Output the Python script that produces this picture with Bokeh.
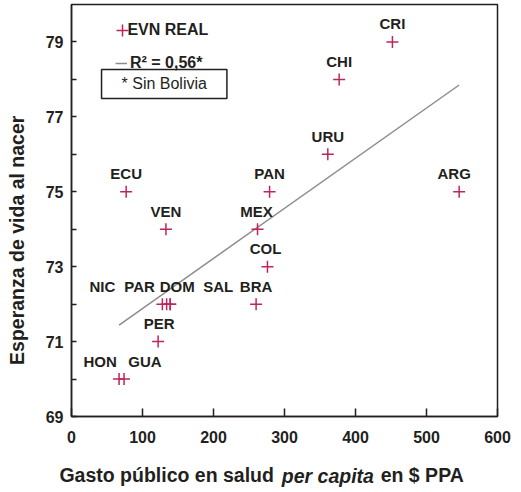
import math
from bokeh.plotting import figure
from bokeh.models import (ColumnDataSource, FixedTicker, Label, Legend, LegendItem,
                          LinearAxis, Range1d)
from bokeh.core.properties import value
from bokeh.embed import file_html
from bokeh.resources import INLINE

# ---- data ----
countries = ["CRI", "CHI", "URU", "ARG", "PAN", "ECU", "VEN", "MEX", "COL",
             "BRA", "NIC", "PAR", "DOM", "SAL", "PER", "HON", "GUA"]
gasto = [452, 377, 361, 546, 279, 77, 133, 262, 276,
         260, 128, 134, 139, 139, 122, 67, 74]
evn = [79, 78, 76, 75, 75, 75, 74, 74, 73,
       72, 72, 72, 72, 72, 71, 70, 70]
fit_slope = 0.01338
fit_intercept = 70.545
x_ticks = [0, 100, 200, 300, 400, 500, 600]
y_major = [69, 71, 73, 75, 77, 79]
y_minor = [70, 72, 74, 76, 78]

# ---- styling ----
label_dx = [0, 0, 0, -5, 0, 0, 0, -1, -2, 0, -60, -27, 7, 48, 1, -19, 21]
FONT = "Liberation Sans"
TXT = "#231f20"
CRIMSON = "#c0245c"
GRAY = "#8c8c8c"
TITLE_SIZE = "19.5px"
NBSP = "\u00a0"

src = ColumnDataSource(dict(gasto=gasto, evn=evn, country=countries, dx=label_dx))

p = figure(width=521, height=491, x_range=Range1d(0, 600), y_range=Range1d(69, 80),
           output_backend="svg", toolbar_location=None,
           min_border_left=71, min_border_right=24, min_border_top=4, min_border_bottom=75)
p.xgrid.visible = False
p.ygrid.visible = False
p.outline_line_color = TXT
p.outline_line_width = 1.5
p.background_fill_color = "white"
p.border_fill_color = "white"

for ax in (p.xaxis[0], p.yaxis[0]):
    ax.axis_line_color = TXT
    ax.axis_line_width = 1.5
    ax.major_tick_line_color = TXT
    ax.major_tick_line_width = 1.5
    ax.minor_tick_line_color = TXT
    ax.minor_tick_line_width = 1.5
    ax.major_tick_out = 0
    ax.minor_tick_out = 0
    ax.major_label_text_font = FONT
    ax.major_label_text_font_style = "bold"
    ax.major_label_text_font_size = "16px"
    ax.major_label_text_color = TXT

p.xaxis[0].ticker = FixedTicker(ticks=x_ticks)
p.xaxis[0].major_tick_in = 8
p.xaxis[0].minor_tick_in = 0
p.xaxis[0].major_label_standoff = 14

p.yaxis[0].ticker = FixedTicker(ticks=y_major, minor_ticks=y_minor)
p.yaxis[0].major_tick_in = 5
p.yaxis[0].minor_tick_in = 5
p.yaxis[0].major_label_standoff = 8
# y-axis title (trailing no-break spaces push the text down along the axis)
p.yaxis[0].axis_label = "Esperanza de vida al nacer" + NBSP * 11
p.yaxis[0].axis_label_standoff = 15
p.yaxis[0].axis_label_text_font = FONT
p.yaxis[0].axis_label_text_font_size = TITLE_SIZE
p.yaxis[0].axis_label_text_font_style = "bold"
p.yaxis[0].axis_label_text_color = TXT

# x-axis title, built as a second (invisible) axis so that "per capita" can be italic
part1_pos, part3_pos = 134, 494
title_axis = LinearAxis(ticker=FixedTicker(ticks=[part1_pos, part3_pos]),
                        major_label_overrides={part1_pos: "Gasto público en salud",
                                               part3_pos: "en $ PPA"},
                        axis_line_color=None, major_tick_line_color=None,
                        minor_tick_line_color=None, major_tick_in=0, major_tick_out=0,
                        minor_tick_in=0, minor_tick_out=0,
                        major_label_text_font=FONT, major_label_text_font_size=TITLE_SIZE,
                        major_label_text_font_style="bold", major_label_text_color=TXT,
                        major_label_standoff=18,
                        axis_label=NBSP * 16 + "per capita",
                        axis_label_text_font=FONT, axis_label_text_font_size=TITLE_SIZE,
                        axis_label_text_font_style="bold italic",
                        axis_label_text_color=TXT, axis_label_standoff=-24)
p.add_layout(title_axis, "below")

# regression line across data span
xs_fit = [min(gasto), max(gasto)]
ys_fit = [fit_intercept + fit_slope * v for v in xs_fit]
r_line = p.line(xs_fit, ys_fit, line_color=GRAY, line_width=1.5)

r_pts = p.scatter(x="gasto", y="evn", source=src, marker="cross", size=12,
                  line_color=CRIMSON, line_width=1.5)

p.text(x="gasto", y="evn", text="country", source=src, x_offset="dx", y_offset=-18,
       text_align="center", text_baseline="alphabetic", text_font=value(FONT),
       text_font_style="bold", text_font_size="15px", text_color=TXT)

# legend
leg_common = dict(border_line_color=None, background_fill_alpha=0, padding=0, margin=0,
                  label_text_font=FONT, label_text_font_style="bold",
                  label_text_font_size="16px", label_text_color=TXT)
legend1 = Legend(items=[LegendItem(label=" ", renderers=[r_pts])],
                 location=(36, 371), glyph_width=30, glyph_height=30, label_height=30,
                 label_standoff=0, **leg_common)
legend2 = Legend(items=[LegendItem(label="R\u00b2 = 0,56*", renderers=[r_line])],
                 location=(44, 343), glyph_width=12, glyph_height=20, label_height=20,
                 label_standoff=3, **leg_common)
p.add_layout(legend1)
p.add_layout(legend2)
p.add_layout(Label(x=78.7, y=79.32, text="EVN REAL", text_align="left",
                   text_baseline="middle", text_font=FONT, text_font_size="16px",
                   text_font_style="bold", text_color=TXT))

p.add_layout(Label(x=130.6, y=77.88, text="* Sin Bolivia", text_align="center",
                   text_baseline="middle", text_font=FONT, text_font_size="16px",
                   text_color=TXT, border_line_color=TXT, border_line_width=1.5,
                   background_fill_color="white", padding=(20, 6)))

open("out.html", "w").write(file_html(p, INLINE))
